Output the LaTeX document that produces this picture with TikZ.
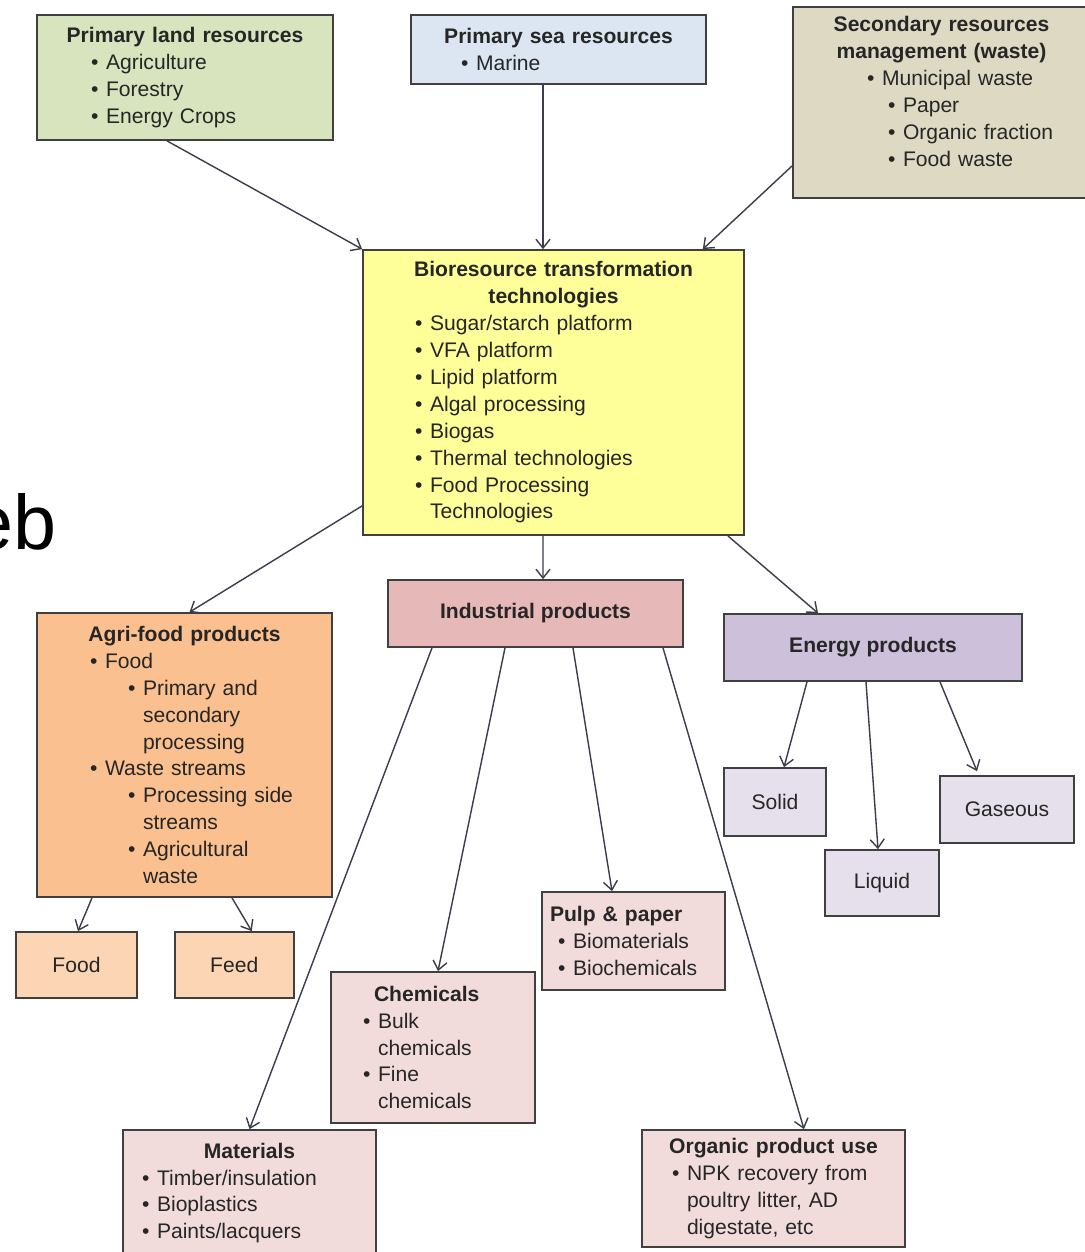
\documentclass[tikz,border=0pt]{standalone}
\usepackage{fontspec}
\setmainfont{Liberation Sans}
\usetikzlibrary{calc,positioning,arrows.meta}

\definecolor{landgreen}{HTML}{D7E4BD}
\definecolor{seablue}{HTML}{DCE6F2}
\definecolor{wastetan}{HTML}{DDD9C3}
\definecolor{bioyellow}{HTML}{FFFF99}
\definecolor{agriorange}{HTML}{FAC090}
\definecolor{agrilight}{HTML}{FCD5B4}
\definecolor{indrose}{HTML}{E6B9B8}
\definecolor{indlight}{HTML}{F2DCDB}
\definecolor{enlilac}{HTML}{CCC0DA}
\definecolor{enlight}{HTML}{E5E0EC}
\definecolor{edgegray}{HTML}{404040}
\definecolor{arrowgray}{HTML}{3C3C4C}

\setlength{\parindent}{0pt}
\newcommand{\bitem}[2][0cm]{\par\leftskip=#1\relax\hangindent=0.3cm\hangafter=1\noindent\makebox[0.3cm][l]{\textbullet}#2}

\begin{document}
\begin{tikzpicture}[
                x=0.02cm, y=-0.02cm,
                every node/.append style={font=\fontsize{12}{15.3}\selectfont, text=black!85},
                panel/.style={draw=edgegray, line width=1pt, inner xsep=0.16cm, inner ysep=2pt, align=left},
                tag/.style={draw=edgegray, line width=1pt, align=center},
                flow/.style={draw=arrowgray, line width=0.8pt, -{Straight Barb[length=5pt,width=8pt]}}
            ]
                \path[use as bounding box, fill=white] (0,0) rectangle (1085,1252);

                \node[panel, fill=landgreen, text width=5.6cm, minimum height=2.5cm] (land) at (185,77.5) {%
                    {\centering\bfseries Primary land resources\par}
                    \bitem[0.92cm]{Agriculture}
                    \bitem[0.92cm]{Forestry}
                    \bitem[0.92cm]{Energy Crops}\par};
                \node[panel, fill=seablue, text width=5.58cm, minimum height=1.38cm] (sea) at (558.5,49.5) {%
                    {\centering\bfseries Primary sea resources\par}
                    \bitem[0.84cm]{Marine}\par};
                \node[panel, fill=wastetan, text width=5.62cm, minimum height=3.82cm] (waste) at (941.5,102.5) {%
                    {\centering\bfseries Secondary resources\\ management (waste)\par}
                    \bitem[1.32cm]{Municipal waste}
                    \bitem[1.74cm]{Paper}
                    \bitem[1.74cm]{Organic fraction}
                    \bitem[1.74cm]{Food waste}\par\vspace*{0.44cm}};

                \node[panel, fill=bioyellow, text width=7.3cm, minimum height=5.7cm] (bio) at (553.5,392.5) {%
                    {\centering\bfseries Bioresource transformation\\ technologies\par}
                    \bitem[0.88cm]{Sugar/starch platform}
                    \bitem[0.88cm]{VFA platform}
                    \bitem[0.88cm]{Lipid platform}
                    \bitem[0.88cm]{Algal processing}
                    \bitem[0.88cm]{Biogas}
                    \bitem[0.88cm]{Thermal technologies}
                    \bitem[0.88cm]{Food Processing\newline Technologies}\par};

                \node[panel, fill=agriorange, text width=5.58cm, minimum height=5.68cm] (agri) at (184.5,755) {%
                    {\centering\bfseries Agri-food products\par}
                    \bitem[0.9cm]{Food}
                    \bitem[1.66cm]{Primary and\newline secondary\newline processing}
                    \bitem[0.9cm]{Waste streams}
                    \bitem[1.66cm]{Processing side\newline streams}
                    \bitem[1.66cm]{Agricultural\newline waste}\par};
                \node[tag, fill=agrilight, minimum width=2.42cm, minimum height=1.32cm] (food) at (76.5,965) {Food};
                \node[tag, fill=agrilight, minimum width=2.38cm, minimum height=1.32cm, right=0.72cm of food] (feed) {Feed};

                \node[tag, fill=indrose, minimum width=5.9cm, minimum height=1.34cm, font=\fontsize{12}{15.3}\selectfont\bfseries] (ind) at (535.5,613.5) {Industrial products};
                \node[panel, fill=indlight, text width=3.34cm, minimum height=1.96cm] (pulp) at (633.5,941) {%
                    \textbf{Pulp \& paper}\par
                    \bitem[0.16cm]{Biomaterials}
                    \bitem[0.16cm]{Biochemicals}\par};
                \node[panel, fill=indlight, text width=3.76cm, minimum height=3.02cm] (chem) at (433,1047.5) {%
                    \hspace*{0.7cm}\textbf{Chemicals}\par
                    \bitem[0.48cm]{Bulk\newline chemicals}
                    \bitem[0.48cm]{Fine\newline chemicals}\par};
                \node[panel, fill=indlight, text width=4.74cm, minimum height=2.52cm] (mat) at (249.5,1193) {%
                    {\centering\bfseries Materials\par}
                    \bitem[0.22cm]{Timber/insulation}
                    \bitem[0.22cm]{Bioplastics}
                    \bitem[0.22cm]{Paints/lacquers}\par};
                \node[panel, fill=indlight, text width=4.94cm, minimum height=2.34cm] (org) at (773.5,1188.5) {%
                    {\centering\bfseries Organic product use\par}
                    \bitem[0.44cm]{NPK recovery from\newline poultry litter, AD\newline digestate, etc}\par};

                \node[tag, fill=enlilac, minimum width=5.96cm, minimum height=1.34cm, font=\fontsize{12}{15.3}\selectfont\bfseries] (energy) at (873,647.5) {Energy products};
                \node[tag, fill=enlight, minimum width=2.04cm, minimum height=1.36cm] (solid) at (775,802) {Solid};
                \node[tag, fill=enlight, minimum width=2.28cm, minimum height=1.32cm] (liquid) at (882,883) {Liquid};
                \node[tag, fill=enlight, minimum width=2.68cm, minimum height=1.34cm] (gas) at (1007,809.5) {Gaseous};

                \node[font=\fontsize{44}{50}\selectfont, text=black, anchor=base east, inner sep=0pt] (eb) at (57,549) {eb};

                \draw[flow] ($(land.south)+(-18,0)$) -- (bio.north west);
                \draw[flow] ($(sea.south)+(-15.5,0)$) -- ($(bio.north)+(-10.5,0)$);
                \draw[flow] ($(waste.south west)+(0,-33)$) -- ($(bio.north east)+(-42,0)$);
                \draw[flow] ($(bio.south west)+(0,-30)$) -- ($(agri.north)+(5,0)$);
                \draw[flow] ($(bio.south)+(-10.5,0)$) -- ($(ind.north)+(7.5,0)$);
                \draw[flow] ($(bio.south east)+(-17,0)$) -- ($(energy.north)+(-55,0)$);
                \draw[flow] ($(agri.south)+(-92.5,0)$) -- ($(food.north)+(1.5,0)$);
                \draw[flow] ($(agri.south)+(47.5,0)$) -- ($(feed.north)+(17.5,0)$);
                \draw[flow] ($(ind.south)+(-103.5,0)$) -- (mat.north);
                \draw[flow] ($(ind.south)+(-30.5,0)$) -- ($(chem.north)+(5,0)$);
                \draw[flow] ($(ind.south)+(37.5,0)$) -- ($(pulp.north)+(-21.5,0)$);
                \draw[flow] ($(ind.south)+(127.5,0)$) -- ($(org.north)+(30.5,0)$);
                \draw[flow] ($(energy.south)+(-66,0)$) -- ($(solid.north)+(9,0)$);
                \draw[flow] ($(energy.south)+(-7,0)$) -- ($(liquid.north)+(-4,0)$);
                \draw[flow] ($(energy.south)+(67,0)$) -- ($(gas.north)+(-30,-4)$);
            \end{tikzpicture}
\end{document}
